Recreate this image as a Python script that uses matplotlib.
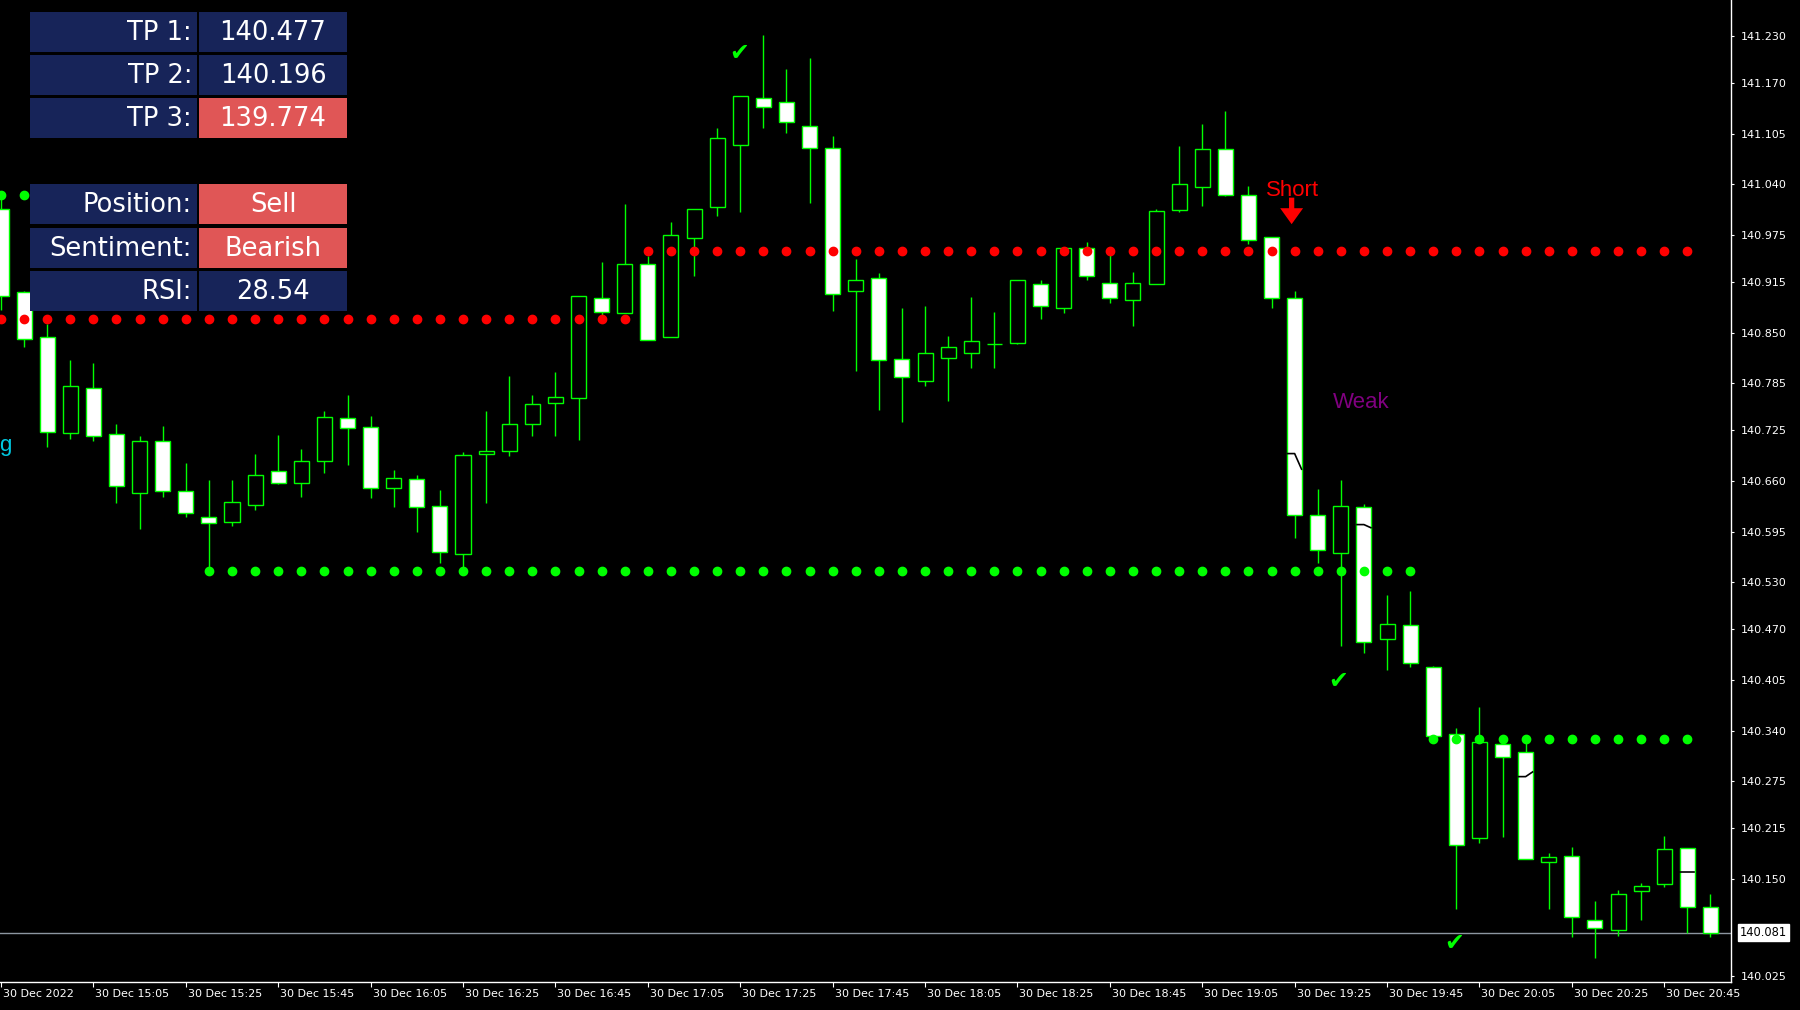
import numpy as np
import matplotlib
matplotlib.use('Agg')
import matplotlib.pyplot as plt
import matplotlib.transforms as mtransforms
from matplotlib.patches import Rectangle

# 5-minute candles, 30 Dec 14:45 -> 20:55
opens = [141.009, 140.902, 140.844, 140.722, 140.779, 140.720, 140.645, 140.711, 140.647, 140.614,
         140.607, 140.629, 140.673, 140.657, 140.686, 140.740, 140.729, 140.651, 140.662, 140.628,
         140.566, 140.695, 140.698, 140.733, 140.760, 140.766, 140.895, 140.875, 140.938, 140.845,
         140.971, 141.011, 141.091, 141.151, 141.145, 141.115, 141.086, 140.904, 140.920, 140.816,
         140.788, 140.818, 140.824, 140.835, 140.837, 140.912, 140.882, 140.959, 140.914, 140.892,
         140.912, 141.007, 141.037, 141.085, 141.027, 140.973, 140.894, 140.616, 140.568, 140.626,
         140.457, 140.475, 140.421, 140.335, 140.202, 140.323, 140.312, 140.172, 140.179, 140.097,
         140.085, 140.134, 140.143, 140.190, 140.114]
highs = [141.021, 140.904, 140.861, 140.815, 140.811, 140.733, 140.717, 140.730, 140.683, 140.661,
         140.661, 140.695, 140.719, 140.701, 140.749, 140.770, 140.743, 140.674, 140.668, 140.648,
         140.697, 140.750, 140.795, 140.770, 140.800, 140.897, 140.941, 141.015, 140.948, 140.992,
         141.009, 141.112, 141.153, 141.231, 141.188, 141.202, 141.102, 140.944, 140.926, 140.882,
         140.884, 140.846, 140.896, 140.876, 140.918, 140.917, 140.959, 140.966, 140.949, 140.928,
         141.009, 141.089, 141.117, 141.134, 141.038, 140.973, 140.903, 140.650, 140.661, 140.630,
         140.514, 140.519, 140.423, 140.343, 140.370, 140.326, 140.324, 140.183, 140.191, 140.122,
         140.136, 140.145, 140.205, 140.190, 140.131]
lows = [140.879, 140.831, 140.704, 140.714, 140.711, 140.632, 140.598, 140.640, 140.614, 140.546,
        140.602, 140.623, 140.656, 140.640, 140.670, 140.680, 140.638, 140.627, 140.595, 140.555,
        140.543, 140.632, 140.692, 140.717, 140.717, 140.712, 140.872, 140.875, 140.840, 140.845,
        140.923, 141.000, 141.005, 141.112, 141.106, 141.016, 140.878, 140.801, 140.751, 140.736,
        140.782, 140.762, 140.805, 140.805, 140.835, 140.867, 140.875, 140.917, 140.888, 140.858,
        140.912, 141.005, 141.012, 141.025, 140.964, 140.882, 140.587, 140.555, 140.448, 140.440,
        140.418, 140.422, 140.333, 140.111, 140.196, 140.204, 140.175, 140.111, 140.075, 140.049,
        140.077, 140.097, 140.139, 140.081, 140.075]
closes = [140.897, 140.842, 140.723, 140.781, 140.718, 140.653, 140.711, 140.647, 140.619, 140.606,
          140.633, 140.668, 140.657, 140.686, 140.742, 140.728, 140.651, 140.664, 140.627, 140.569,
          140.693, 140.698, 140.733, 140.759, 140.768, 140.897, 140.876, 140.938, 140.840, 140.975,
          141.009, 141.099, 141.153, 141.139, 141.120, 141.087, 140.900, 140.918, 140.815, 140.793,
          140.824, 140.831, 140.839, 140.835, 140.918, 140.884, 140.959, 140.922, 140.894, 140.914,
          141.006, 141.040, 141.085, 141.026, 140.969, 140.894, 140.616, 140.572, 140.628, 140.454,
          140.477, 140.426, 140.333, 140.194, 140.325, 140.306, 140.175, 140.178, 140.101, 140.087,
          140.130, 140.141, 140.188, 140.114, 140.081]

current_price = 140.081

# dotted support / resistance levels: (price, first bar, last bar)
red_levels = [140.867, 140.954]
red_first = [0, 28]
red_last = [27, 73]
green_levels = [141.027, 140.544, 140.329]
green_first = [0, 9, 62]
green_last = [1, 61, 73]

# black indicator line, only visible where it crosses white bodies
ind_bars = [56, 59, 66, 73]
ind_left = [140.695, 140.604, 140.281, 140.159]
ind_right = [140.675, 140.600, 140.287, 140.159]

# signal marks
check_x = [31.95, 57.9, 62.9]
check_y = [141.208, 140.403, 140.068]

time_labels = ["30 Dec 2022", "30 Dec 15:05", "30 Dec 15:25", "30 Dec 15:45", "30 Dec 16:05",
               "30 Dec 16:25", "30 Dec 16:45", "30 Dec 17:05", "30 Dec 17:25", "30 Dec 17:45",
               "30 Dec 18:05", "30 Dec 18:25", "30 Dec 18:45", "30 Dec 19:05", "30 Dec 19:25",
               "30 Dec 19:45", "30 Dec 20:05", "30 Dec 20:25", "30 Dec 20:45"]
price_labels = ["141.230", "141.170", "141.105", "141.040", "140.975", "140.915", "140.850",
                "140.785", "140.725", "140.660", "140.595", "140.530", "140.470", "140.405",
                "140.340", "140.275", "140.215", "140.150", "140.025"]

table_labels = ["TP 1:", "TP 2:", "TP 3:", "Position:", "Sentiment:", "RSI:"]
table_values = ["140.477", "140.196", "139.774", "Sell", "Bearish", "28.54"]
table_alert = [False, False, True, True, True, False]

LIME = '#00FF00'
RED = '#FF0000'
NAVY = '#172459'
ALERT = '#E05656'

plt.rcParams['font.family'] = 'DejaVu Sans'

fig = plt.figure(figsize=(18, 10.1), dpi=100, facecolor='black')
ax = fig.add_axes([0, 28 / 1010, 1731 / 1800, 982 / 1010])
ax.set_facecolor('black')

# candles: white body = bearish, black body = bullish, lime outline
for i in range(len(opens)):
    o, h, l, c = opens[i], highs[i], lows[i], closes[i]
    ax.vlines(i, l, h, color=LIME, lw=1.0, zorder=2)
    body = Rectangle((i - 0.325, min(o, c)), 0.65, abs(c - o),
                     facecolor='white' if c < o else 'black',
                     edgecolor=LIME, lw=1.0, zorder=3)
    ax.add_patch(body)

for b, yl, yr in zip(ind_bars, ind_left, ind_right):
    ax.plot([b - 0.3, b, b + 0.3], [yl, yl, yr], color='black', lw=1.2, zorder=4)

# dotted levels
for lvl, a, b in zip(red_levels, red_first, red_last):
    xs = np.arange(a, b + 1)
    ax.plot(xs, np.full(len(xs), lvl), ls='none', marker='o', ms=6, color=RED, zorder=5)
for lvl, a, b in zip(green_levels, green_first, green_last):
    xs = np.arange(a, b + 1)
    ax.plot(xs, np.full(len(xs), lvl), ls='none', marker='o', ms=6, color=LIME, zorder=5)

# current price line + tag on the price scale
ax.axhline(current_price, color='#8C96A0', lw=1, zorder=1)
tag_tr = mtransforms.blended_transform_factory(ax.transAxes, ax.transData)
ax.text(1.0053, current_price, f"{current_price:.3f}", transform=tag_tr, ha='left', va='center',
        fontsize=8.3, color='black', clip_on=False,
        bbox=dict(facecolor='white', edgecolor='white', pad=1.6))

# signals
ax.text(55.9, 141.032, 'Short', color=RED, fontsize=16, family='Liberation Sans',
        ha='center', va='center', zorder=6)
ax.annotate('', xy=(55.87, 140.989), xytext=(55.87, 141.023),
            arrowprops=dict(arrowstyle='simple,head_width=1.65,head_length=1.15,tail_width=0.38',
                            color=RED, lw=0, shrinkA=0, shrinkB=0, mutation_scale=10), zorder=6)
ax.text(58.87, 140.760, 'Weak', color='#800080', fontsize=16, family='Liberation Sans',
        ha='center', va='center', zorder=6)
for cx, cy in zip(check_x, check_y):
    ax.text(cx, cy, '\u2714', color=LIME, fontsize=17, ha='center', va='center', zorder=6)

ax.set_xlim(-0.043, 74.89)
ax.set_ylim(140.0178, 141.2763)

# axes styling
for side in ['left', 'top']:
    ax.spines[side].set_visible(False)
for side in ['right', 'bottom']:
    ax.spines[side].set_color('white')
    ax.spines[side].set_linewidth(1)

ax.yaxis.tick_right()
ax.set_yticks([float(s) for s in price_labels])
ax.set_yticklabels(price_labels)
ax.set_xticks(np.arange(0, 4 * len(time_labels), 4))
ax.set_xticklabels(time_labels)
ax.tick_params(axis='y', colors='white', labelsize=8, length=2.5, width=0.8, pad=4.5)
ax.tick_params(axis='x', colors='white', labelsize=8, length=3.5, width=0.8, pad=1.5)
shift = mtransforms.ScaledTranslation(2 / 100, 0, fig.dpi_scale_trans)
for lab in ax.get_xticklabels():
    lab.set_horizontalalignment('left')
    lab.set_transform(lab.get_transform() + shift)

# info panel (pixel coordinates)
ov = fig.add_axes([0, 0, 1, 1], facecolor='none')
ov.set_xlim(0, 1800)
ov.set_ylim(1010, 0)
ov.axis('off')
row_tops = [12, 55, 98, 184, 228, 271]
for top, lab, val, alert in zip(row_tops, table_labels, table_values, table_alert):
    ov.add_patch(Rectangle((30, top), 167, 40, facecolor=NAVY, edgecolor='none'))
    ov.add_patch(Rectangle((199, top), 148, 40, facecolor=ALERT if alert else NAVY, edgecolor='none'))
    ov.text(192, top + 21, lab, color='white', fontsize=18.5, ha='right', va='center')
    ov.text(273, top + 21, val, color='white', fontsize=18.5, ha='center', va='center')

ov.text(-1, 446, 'g', color='#00C8E0', fontsize=16, family='Liberation Sans', ha='left', va='center')

fig.savefig('out.png', dpi=100, facecolor='black')
